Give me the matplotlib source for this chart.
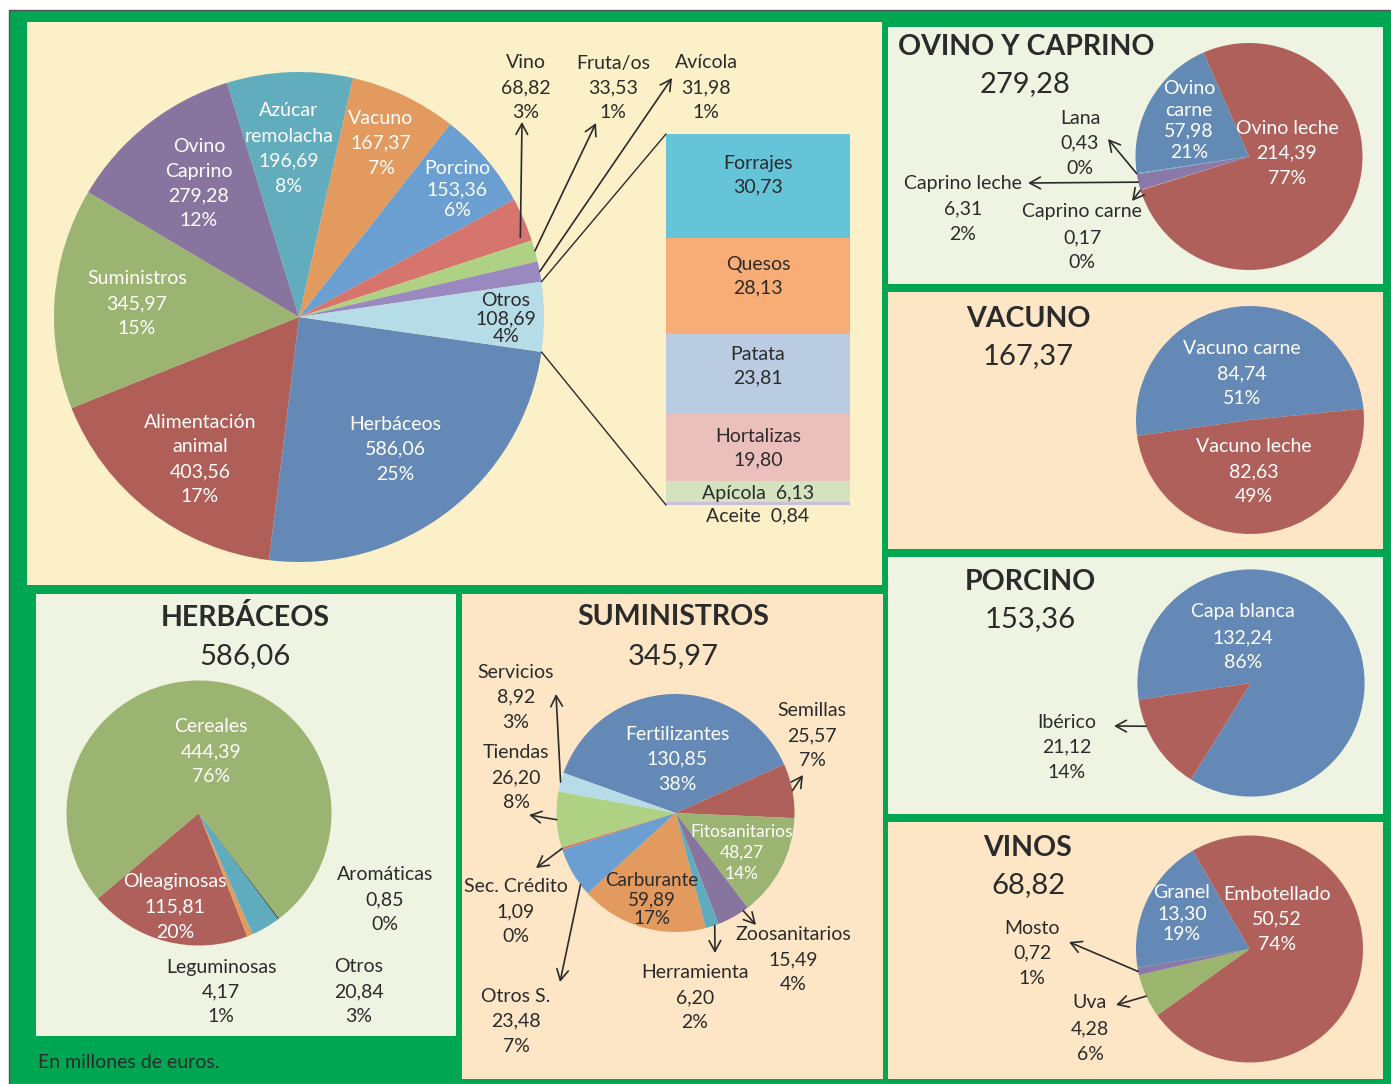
import numpy as np
import matplotlib
matplotlib.use('Agg')
import matplotlib.pyplot as plt
from matplotlib.patches import Rectangle

plt.rcParams['font.family'] = ['Lato', 'DejaVu Sans']

# ---- data (millones de euros) ----
main_names = ['Herbáceos', 'Alimentación\nanimal', 'Suministros', 'Ovino\nCaprino', 'Azúcar\nremolacha',
              'Vacuno', 'Porcino', 'Vino', 'Fruta/os', 'Avícola', 'Otros']
main_values = [586.06, 403.56, 345.97, 279.28, 196.69, 167.37, 153.36, 68.82, 33.53, 31.98, 108.69]
main_pcts = ['25%', '17%', '15%', '12%', '8%', '7%', '6%', '3%', '1%', '1%', '4%']

otros_names = ['Forrajes', 'Quesos', 'Patata', 'Hortalizas', 'Apícola', 'Aceite']
otros_values = [30.73, 28.13, 23.81, 19.80, 6.13, 0.84]

ovino_names = ['Ovino leche', 'Caprino carne', 'Caprino leche', 'Lana', 'Ovino\ncarne']
ovino_values = [214.39, 0.17, 6.31, 0.43, 57.98]
ovino_pcts = ['77%', '0%', '2%', '0%', '21%']

vacuno_names = ['Vacuno carne', 'Vacuno leche']
vacuno_values = [84.74, 82.63]
vacuno_pcts = ['51%', '49%']

porcino_names = ['Capa blanca', 'Ibérico']
porcino_values = [132.24, 21.12]
porcino_pcts = ['86%', '14%']

vinos_names = ['Embotellado', 'Uva', 'Mosto', 'Granel']
vinos_values = [50.52, 4.28, 0.72, 13.30]
vinos_pcts = ['74%', '6%', '1%', '19%']

herb_names = ['Oleaginosas', 'Leguminosas', 'Otros', 'Aromáticas', 'Cereales']
herb_values = [115.81, 4.17, 20.84, 0.85, 444.39]
herb_pcts = ['20%', '1%', '3%', '0%', '76%']

sum_names = ['Fertilizantes', 'Semillas', 'Fitosanitarios', 'Zoosanitarios', 'Herramienta',
             'Carburante', 'Otros S.', 'Sec. Crédito', 'Tiendas', 'Servicios']
sum_values = [130.85, 25.57, 48.27, 15.49, 6.20, 59.89, 23.48, 1.09, 26.20, 8.92]
sum_pcts = ['38%', '7%', '14%', '4%', '2%', '17%', '7%', '0%', '8%', '3%']

# ---- colours ----
GREEN = '#00A651'
CREAM = '#FCF0C8'
LGREEN = '#EFF3E2'
PEACH = '#FDE6C6'
DARK = '#2B2B2B'
WHITE = '#FFFFFF'

main_colors = ['#6489B6', '#AF5F58', '#9BB471', '#8775A0', '#61ADBE', '#E29A5E',
               '#6B9FD1', '#D6756D', '#AED184', '#9A88C0', '#B6DCE7']
otros_colors = ['#66C4D9', '#F7AD75', '#B9CCE2', '#EBC0BC', '#D5E2BF', '#C9C0DE']
ovino_colors = ['#B0605A', '#9BB56F', '#8A78A8', '#5AADC0', '#6389B5']
vacuno_colors = ['#6489B6', '#B0605A']
porcino_colors = ['#6489B6', '#B0605A']
vinos_colors = ['#B0605A', '#9BB56F', '#8A78A8', '#6489B6']
herb_colors = ['#B0605A', '#E29A5E', '#5EACBE', '#2F3A3A', '#9BB471']
sum_colors = ['#6489B6', '#B0605A', '#9BB471', '#8775A0', '#5EACBE', '#E29A5E',
              '#6B9FD1', '#D6756D', '#AED184', '#B6DCE7']

W, H = 1391, 1084
fig = plt.figure(figsize=(W / 100, H / 100), dpi=100)
ax = fig.add_axes([0, 0, 1, 1])


def fmt(v):
    return f'{v:.2f}'.replace('.', ',')


def box(x0, y0, x1, y1, color, **kw):
    ax.add_patch(Rectangle((x0, H - y1), x1 - x0, y1 - y0, facecolor=color, edgecolor='none', **kw))


def label(x, y, lines, dy=25, size=14, color=DARK, weight='normal', ha='center'):
    # y is the pixel row (from the top) of the first line
    for i, s in enumerate(lines):
        ax.text(x, H - (y + 2 + i * dy), s, ha=ha, va='center', fontsize=size, color=color, fontweight=weight)


def rim(w, frac=0.5, rf=1.0):
    a = np.deg2rad(w.theta1 + frac * (w.theta2 - w.theta1))
    cx, cy = w.center
    return cx + rf * w.r * np.cos(a), cy + rf * w.r * np.sin(a)


def arrow(start, end, head=True):
    style = '->, head_length=0.55, head_width=0.3' if head else '-'
    ax.annotate('', xy=(end[0], H - end[1]), xytext=start,
                arrowprops=dict(arrowstyle=style, color=DARK, lw=1.2 if head else 1.0,
                                mutation_scale=14, shrinkA=0, shrinkB=0))


def pie(values, colors, center, r, start, ccw=False):
    wedges, _ = ax.pie(values, colors=colors, startangle=start, counterclock=ccw,
                       center=(center[0], H - center[1]), radius=r, frame=True,
                       wedgeprops=dict(linewidth=0))
    return wedges


def pie_labels(names, values, pcts, layout):
    for n, v, p, (x, y, dy, col, size) in zip(names, values, pcts, layout):
        label(x, y, n.split('\n') + [fmt(v), p], dy=dy, color=col, size=size)


# ---- background frame and panels ----
box(0, 0, W, H, WHITE)
box(9, 10, W, H, GREEN)
ax.plot([9, 9, W], [0, H - 10, H - 10], color='#555555', lw=1)
box(27, 22, 882, 585, CREAM)
box(888, 27, 1383, 284, LGREEN)
box(888, 292, 1383, 549, PEACH)
box(888, 557, 1383, 814, LGREEN)
box(888, 822, 1383, 1079, PEACH)
box(36, 594, 456, 1036, LGREEN)
box(462, 594, 883, 1079, PEACH)

# ---- main pie ----
mw = pie(main_values, main_colors, (299, 317), 245, -8.2)
main_layout = [(395, 422, 25, WHITE, 14), (200, 420, 25, WHITE, 14), (137, 277, 25, WHITE, 14),
               (199, 144, 25, WHITE, 14), (289, 109, 25, WHITE, 14), (381, 116, 25, WHITE, 14),
               (457, 167, 21, WHITE, 14), (526, 61, 25, DARK, 14), (613, 61, 25, DARK, 14),
               (706, 61, 25, DARK, 14), (506, 298, 18.5, DARK, 14)]
pie_labels(main_names, main_values, main_pcts, main_layout)
arrow(rim(mw[7], 0.15, 0.96), (522, 122))
arrow(rim(mw[8]), (596, 123))
arrow(rim(mw[9]), (672, 78))

# Otros broken down as a stacked bar
bar_x, bar_w, bar_top, bar_h = 758, 184, 134, 371
k = bar_h / sum(otros_values)
tops = H - bar_top - k * np.concatenate([[0], np.cumsum(otros_values)[:-1]])
ax.bar([bar_x] * len(otros_values), [k * v for v in otros_values], width=bar_w,
       bottom=tops - k * np.array(otros_values), color=otros_colors, linewidth=0)
text_off = [27, 24, 18.5, 20]
for i, (n, v) in enumerate(zip(otros_names, otros_values)):
    ytop = H - tops[i]
    if i < 4:
        label(bar_x, ytop + text_off[i], [n, fmt(v)], dy=23.5)
    elif i == 4:
        label(bar_x, ytop + k * v / 2, [f'{n}  {fmt(v)}'])
    else:
        label(bar_x, ytop + 12, [f'{n}  {fmt(v)}'])
arrow(rim(mw[10], 1.0), (bar_x - bar_w / 2, bar_top), head=False)
arrow(rim(mw[10], 0.0), (bar_x - bar_w / 2, bar_top + bar_h), head=False)

# ---- OVINO Y CAPRINO ----
label(898, 45, ['OVINO Y CAPRINO'], size=20.5, weight='bold', ha='left')
label(1025, 82, [fmt(main_values[3])], size=21)
ow = pie(ovino_values, ovino_colors, (1249, 156.5), 113.5, 113.7)
ovino_layout = [(1287, 126, 25, WHITE, 14), (1082, 210, 25.5, DARK, 14), (963, 182, 25, DARK, 14),
                (1080, 116, 25, DARK, 14), (1189, 87, 21, WHITE, 14)]
pie_labels(ovino_names, ovino_values, ovino_pcts, ovino_layout)
arrow(rim(ow[3]), (1108, 139))
arrow(rim(ow[2]), (1028, 183))
arrow(rim(ow[1]), (1132, 201))

# ---- VACUNO ----
label(1028, 317, ['VACUNO'], size=20.5, weight='bold')
label(1028, 354, [fmt(main_values[5])], size=21)
pie(vacuno_values, vacuno_colors, (1250, 420), 114, 188)
pie_labels(vacuno_names, vacuno_values, vacuno_pcts,
           [(1242, 347, 25, WHITE, 14), (1254, 445, 25, WHITE, 14)])

# ---- PORCINO ----
label(1030, 580, ['PORCINO'], size=20.5, weight='bold')
label(1030, 617, [fmt(main_values[6])], size=21)
pw = pie(porcino_values, porcino_colors, (1251, 683), 113.6, 188.5)
pie_labels(porcino_names, porcino_values, porcino_pcts,
           [(1243, 610, 25.5, WHITE, 14), (1067, 720, 25, DARK, 14)])
arrow(rim(pw[1], 0.28), (1114, 726))

# ---- VINOS ----
label(1028, 846, ['VINOS'], size=20.5, weight='bold')
label(1028, 883, [fmt(main_values[7])], size=21)
vw = pie(vinos_values, vinos_colors, (1249.5, 949), 113.5, 120)
pie_labels(vinos_names, vinos_values, vinos_pcts,
           [(1277, 892, 25, WHITE, 14), (1090, 1001, 25.5, DARK, 14),
            (1032, 926, 25, DARK, 14), (1182, 891, 21, WHITE, 14)])
arrow(rim(vw[2]), (1069, 942))
arrow(rim(vw[1]), (1116, 1005))

# ---- HERBÁCEOS ----
label(245, 615, ['HERBÁCEOS'], size=20.5, weight='bold')
label(245, 654, [fmt(main_values[0])], size=21)
pie(herb_values, herb_colors, (199, 813), 132.5, 220.2, ccw=True)
pie_labels(herb_names, herb_values, herb_pcts,
           [(175, 880, 25, WHITE, 14), (221, 965, 25, DARK, 14), (359, 965, 25, DARK, 14),
            (385, 873, 25, DARK, 14), (211, 725, 25, WHITE, 14)])

# ---- SUMINISTROS ----
label(673, 615, ['SUMINISTROS'], size=20.5, weight='bold')
label(673, 654, [fmt(main_values[2])], size=21)
sw = pie(sum_values, sum_colors, (675.5, 813), 119, 160.3)
sum_layout = [(677, 732, 25, WHITE, 14), (812, 709, 25, DARK, 14), (742, 830, 21, WHITE, 12.5),
              (793, 933, 25, DARK, 14), (695, 970, 25.5, DARK, 14), (652, 879, 18.5, DARK, 13.5),
              (516, 994, 25, DARK, 14), (516, 884, 25.5, DARK, 14), (516, 751, 25, DARK, 14),
              (516, 670, 25, DARK, 14)]
pie_labels(sum_names, sum_values, sum_pcts, sum_layout)
arrow(rim(sw[9]), (556, 694))
arrow(rim(sw[8]), (529, 815))
arrow(rim(sw[7]), (536, 868))
arrow(rim(sw[6], 0.78), (560, 982))
arrow(rim(sw[1]), (803, 775))
arrow(rim(sw[3], 0.84), (756, 925))
arrow(rim(sw[4], 0.7), (715, 953))

label(38, 1061, ['En millones de euros.'], size=14, ha='left')

ax.set_xlim(0, W)
ax.set_ylim(0, H)
ax.set_aspect('equal')
ax.axis('off')
fig.savefig('out.png', dpi=100)
